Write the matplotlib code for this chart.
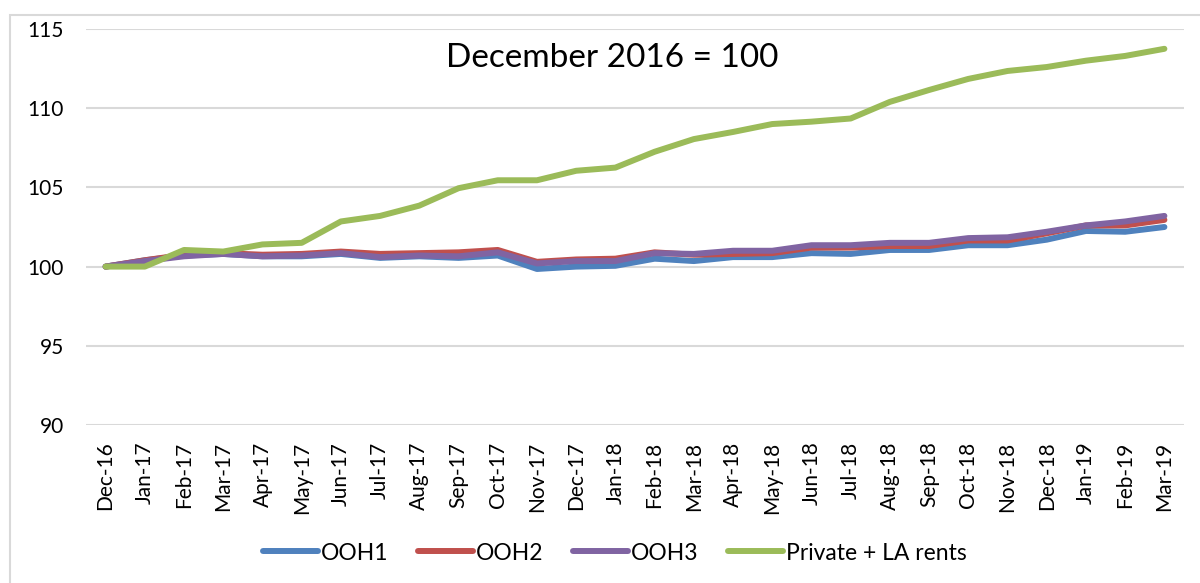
import matplotlib.pyplot as plt
from matplotlib.patches import Rectangle

plt.rcParams["font.family"] = ["Lato", "DejaVu Sans"]

months = ["Dec-16", "Jan-17", "Feb-17", "Mar-17", "Apr-17", "May-17", "Jun-17",
          "Jul-17", "Aug-17", "Sep-17", "Oct-17", "Nov-17", "Dec-17", "Jan-18",
          "Feb-18", "Mar-18", "Apr-18", "May-18", "Jun-18", "Jul-18", "Aug-18",
          "Sep-18", "Oct-18", "Nov-18", "Dec-18", "Jan-19", "Feb-19", "Mar-19"]

ooh1 = [100.0, 100.4, 100.7, 100.8, 100.65, 100.65, 100.8, 100.55, 100.65, 100.55,
        100.7, 99.85, 100.0, 100.05, 100.5, 100.35, 100.6, 100.6, 100.85, 100.8,
        101.05, 101.05, 101.35, 101.35, 101.7, 102.25, 102.2, 102.5]
ooh2 = [100.0, 100.4, 100.75, 100.85, 100.75, 100.8, 100.95, 100.8, 100.85, 100.9,
        101.05, 100.3, 100.45, 100.5, 100.9, 100.75, 100.8, 100.85, 101.2, 101.2,
        101.3, 101.3, 101.65, 101.65, 102.1, 102.6, 102.6, 102.95]
ooh3 = [100.0, 100.35, 100.65, 100.8, 100.65, 100.7, 100.85, 100.6, 100.7, 100.65,
        100.9, 100.2, 100.35, 100.35, 100.85, 100.8, 101.0, 101.0, 101.35, 101.35,
        101.5, 101.5, 101.8, 101.85, 102.2, 102.6, 102.85, 103.2]
rents = [100.0, 100.0, 101.05, 100.95, 101.4, 101.5, 102.85, 103.2, 103.85, 104.95,
         105.45, 105.45, 106.05, 106.25, 107.25, 108.05, 108.5, 109.0, 109.15, 109.35,
         110.4, 111.15, 111.85, 112.35, 112.6, 113.0, 113.3, 113.75]

series = [("OOH1", ooh1, "#4F81BD"), ("OOH2", ooh2, "#C0504D"),
          ("OOH3", ooh3, "#8064A2"), ("Private + LA rents", rents, "#9BBB59")]

fig = plt.figure(figsize=(12, 5.83), dpi=100)
fig.patches.append(Rectangle((10 / 1200, -0.1), 1.2, 1 - 15 / 583 + 0.1,
                             transform=fig.transFigure, fill=False,
                             edgecolor="#D9D9D9", linewidth=1.5))
ax = fig.add_axes([86 / 1200, 1 - 425 / 583, 1098 / 1200, 396 / 583])

x = range(len(months))
for name, vals, color in series:
    ax.plot(x, vals, color=color, linewidth=4.3, solid_capstyle="round",
            solid_joinstyle="round", label=name)

ax.set_xlim(-0.5, len(months) - 0.5)
ax.set_ylim(90, 115)
ax.set_yticks([90, 95, 100, 105, 110, 115])
ax.set_xticks(list(x))
ax.set_xticklabels(months, rotation=90)
ax.tick_params(axis="y", length=0, pad=16, labelsize=15)
ax.tick_params(axis="x", length=0, pad=12, labelsize=15)
ax.grid(axis="y", color="#D9D9D9", linewidth=1.5)
ax.set_axisbelow(True)
for s in ax.spines.values():
    s.set_visible(False)

fig.text(612 / 1200, 1 - 58 / 583, "December 2016 = 100", fontsize=24,
         ha="center", va="center")

fig.legend(loc="center", bbox_to_anchor=(615 / 1200, 1 - 553 / 583), ncol=4,
           frameon=False, fontsize=16.5, handlelength=2.4, handletextpad=0.12,
           columnspacing=1.3)

fig.savefig("out.png", dpi=100)
